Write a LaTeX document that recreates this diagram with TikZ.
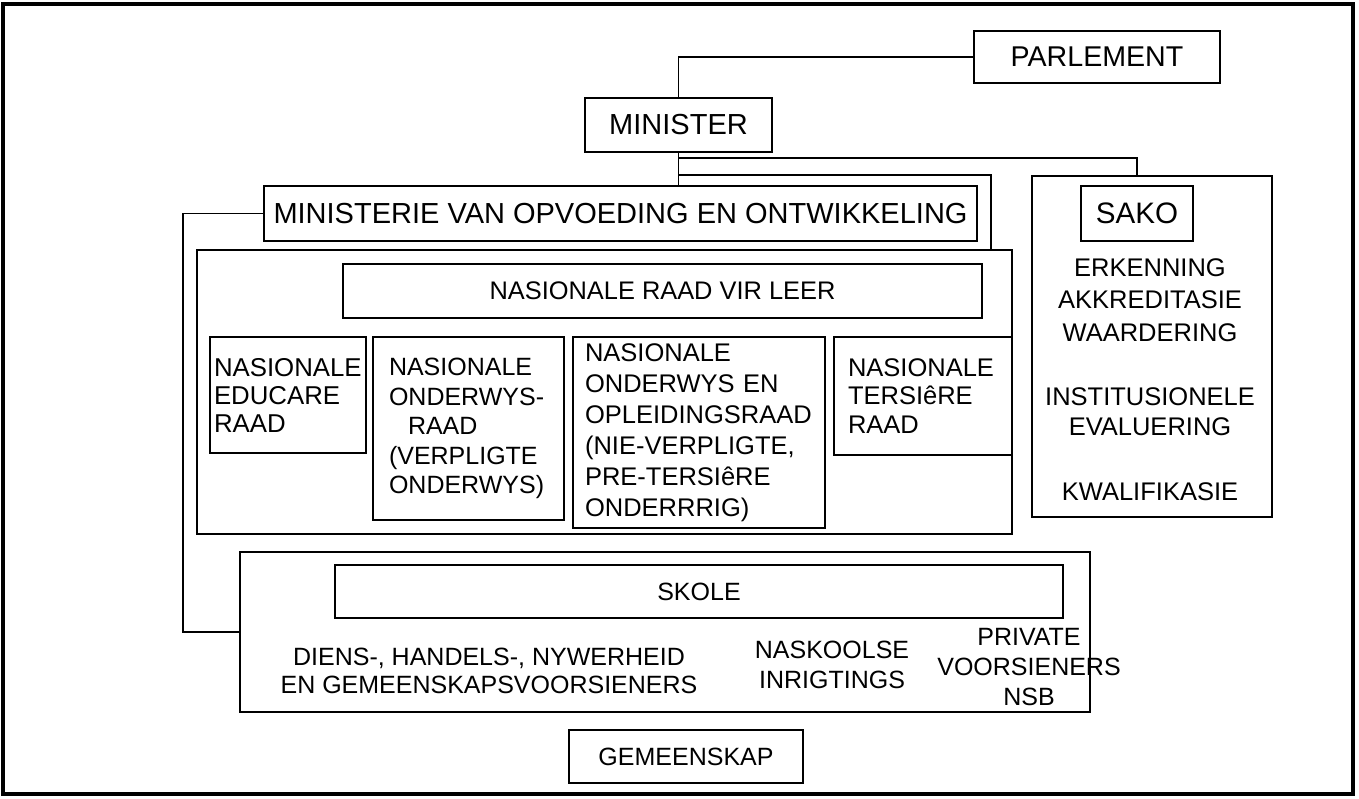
\documentclass[tikz,border=0pt]{standalone}
\usepackage{fontspec}
\setmainfont{Liberation Sans}
\begin{document}
\begin{tikzpicture}[x=1pt,y=-1pt,
  bx/.style={draw=black, line width=1.8pt, rectangle, inner sep=0pt},
  lbl/.style={inner sep=0pt, align=center},
  ln/.style={line width=1.8pt, draw=black},
  nohy/.style={execute at begin node={\hyphenpenalty=10000 \exhyphenpenalty=10000 }}]
\useasboundingbox (0,0) rectangle (1359,799);
\draw[line width=3.5pt] (3,4) rectangle (1353,794);

% top
\node[bx, minimum width=246pt, minimum height=52pt, font=\fontsize{28.6}{32}\selectfont] (parl) at (1097,57) {PARLEMENT};
\node[bx, minimum width=187pt, minimum height=54pt, font=\fontsize{29}{32}\selectfont] (mini) at (678.5,125) {MINISTER};
\node[bx, minimum width=713pt, minimum height=55pt, font=\fontsize{29}{32}\selectfont] (mvo) at (620.5,213.5) {MINISTERIE VAN OPVOEDING EN ONTWIKKELING};

% council
\node[bx, minimum width=815pt, minimum height=284pt] (raad) at (604.5,392) {};
\node[bx, minimum width=639pt, minimum height=54pt, font=\fontsize{25.4}{28}\selectfont] (nrvl) at (662.5,291) {NASIONALE RAAD VIR LEER};
\node[bx, nohy, minimum width=156pt, minimum height=116pt, text width=148pt, align=left, font=\fontsize{25.8}{28}\selectfont] (educ) at (288,395) {NASIONALE\\EDUCARE\\RAAD};
\node[bx, nohy, minimum width=191pt, minimum height=183pt, text width=159pt, align=left, font=\fontsize{25}{29.5}\selectfont] (onder) at (468.5,428.5) {NASIONALE\\ONDERWYS-\\\hspace*{19pt}RAAD\\(VERPLIGTE\\ONDERWYS)};
\node[bx, nohy, minimum width=252pt, minimum height=191pt, text width=228pt, align=left, font=\fontsize{25.5}{31}\selectfont] (oplei) at (699,432.5) {NASIONALE\\ONDERWYS EN\\OPLEIDINGSRAAD\\(NIE-VERPLIGTE,\\PRE-TERSIêRE\\ONDERRRIG)};
\node[bx, nohy, minimum width=178pt, minimum height=118pt, text width=150pt, align=left, font=\fontsize{25.5}{28.5}\selectfont] (ters) at (923,396) {NASIONALE\\TERSIêRE\\RAAD};

% SAKO
\node[bx, minimum width=240pt, minimum height=341pt] (sakoo) at (1152,346.5) {};
\node[bx, minimum width=112pt, minimum height=55pt, font=\fontsize{29.6}{32}\selectfont] (sakoi) at (1137,213.5) {SAKO};
\node[lbl, font=\fontsize{25.5}{32.5}\selectfont] (erk) at (1150,300) {ERKENNING\\AKKREDITASIE\\WAARDERING};
\node[lbl, font=\fontsize{25.5}{30}\selectfont] (inst) at (1150,412) {INSTITUSIONELE\\EVALUERING};
\node[lbl, font=\fontsize{25.5}{30}\selectfont] (kwal) at (1150,492) {KWALIFIKASIE};

% schools
\node[bx, minimum width=850pt, minimum height=160pt] (skout) at (665,632) {};
\node[bx, minimum width=728pt, minimum height=53pt, font=\fontsize{25}{28}\selectfont] (skin) at (699,591.5) {SKOLE};
\node[lbl, font=\fontsize{25}{28}\selectfont] (diens) at (489,671) {DIENS-, HANDELS-, NYWERHEID\\EN GEMEENSKAPSVOORSIENERS};
\node[lbl, font=\fontsize{25}{30}\selectfont] (nask) at (832,665) {NASKOOLSE\\INRIGTINGS};
\node[lbl, font=\fontsize{25}{30}\selectfont] (priv) at (1029,667) {PRIVATE\\VOORSIENERS\\NSB};

\node[bx, minimum width=234pt, minimum height=53pt, font=\fontsize{25}{28}\selectfont] (gem) at (686,756.5) {GEMEENSKAP};

% connectors
\draw[ln] (parl.west) -| (mini.north);
\draw[ln] (mini.south) -- (mini.south |- mvo.north);
\coordinate (j1) at (678.5,158);
\draw[ln] (j1) -| ([xshift=-15pt]sakoo.north);
\coordinate (j2) at (678.5,175);
\coordinate (j3) at (991,250);
\draw[ln] (j2) -| (j3);
\coordinate (lc) at (183,213.5);
\draw[ln] (mvo.west) -- (lc) |- (skout.west);
\end{tikzpicture}
\end{document}
